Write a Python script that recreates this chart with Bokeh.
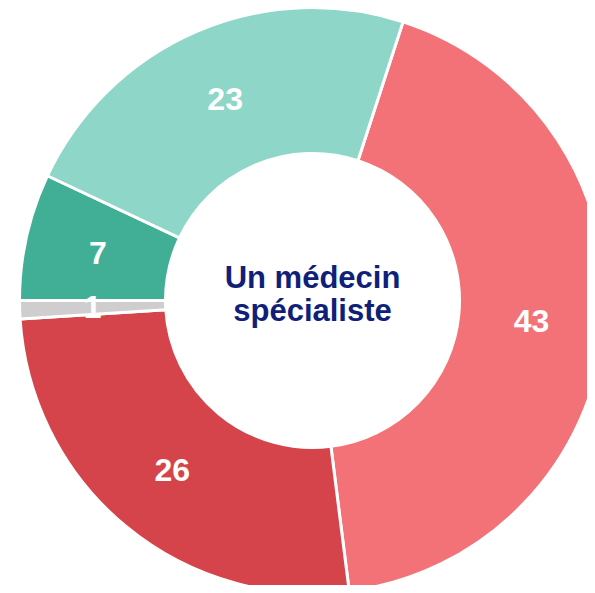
import math
from bokeh.plotting import figure
from bokeh.models import Range1d, ColumnDataSource
from bokeh.core.properties import value
from bokeh.embed import file_html
from bokeh.resources import INLINE

# Data
categories = ["A", "B", "C", "D", "E"]
values = [43, 26, 1, 7, 23]
colors = ["#F37277", "#D6444B", "#CFCDCE", "#40AF96", "#8ED6C8"]
center_lines = ["Un médecin", "spécialiste"]

# Layout (image pixel coords -> data coords)
W, H = 587, 585
def dx(px):
    return px
def dy(py):
    return H - py

cx, cy = dx(312), dy(300)
r_out, r_in, r_lab = 293, 147, 220
start_deg = 18.0

total = float(sum(values))
starts, ends, lx, ly = [], [], [], []
acc = start_deg
for v in values:
    span = v / total * 360.0
    s, e = acc, acc + span
    starts.append(math.radians(90 - s))
    ends.append(math.radians(90 - e))
    mid = math.radians((s + e) / 2)
    lx.append(cx + r_lab * math.sin(mid))
    ly.append(cy + r_lab * math.cos(mid))
    acc = e

src = ColumnDataSource(dict(
    cat=categories, val=values, color=colors,
    start=starts, end=ends, lx=lx, ly=ly,
    label=[str(v) for v in values],
))

p = figure(width=W, height=H, x_range=Range1d(0, W), y_range=Range1d(0, H),
           toolbar_location=None, output_backend="svg", min_border=0)
p.axis.visible = False
p.grid.visible = False
p.outline_line_color = None
p.background_fill_color = "white"
p.border_fill_color = "white"

p.annular_wedge(x=cx, y=cy, inner_radius=r_in, outer_radius=r_out,
                start_angle="start", end_angle="end", direction="clock",
                fill_color="color", line_color="white", line_width=3, source=src)

p.text(x="lx", y="ly", text="label", source=src, text_color="white",
       text_font=value("Liberation Sans"), text_font_style="bold",
       text_font_size="32px", text_align="center", text_baseline="middle")

p.text(x=[cx, cx], y=[dy(277), dy(310)], text=center_lines,
       text_color="#101F78", text_font=value("Liberation Sans"),
       text_font_style="bold", text_font_size="31px",
       text_align="center", text_baseline="alphabetic")

open("out.html", "w").write(file_html(p, INLINE))
